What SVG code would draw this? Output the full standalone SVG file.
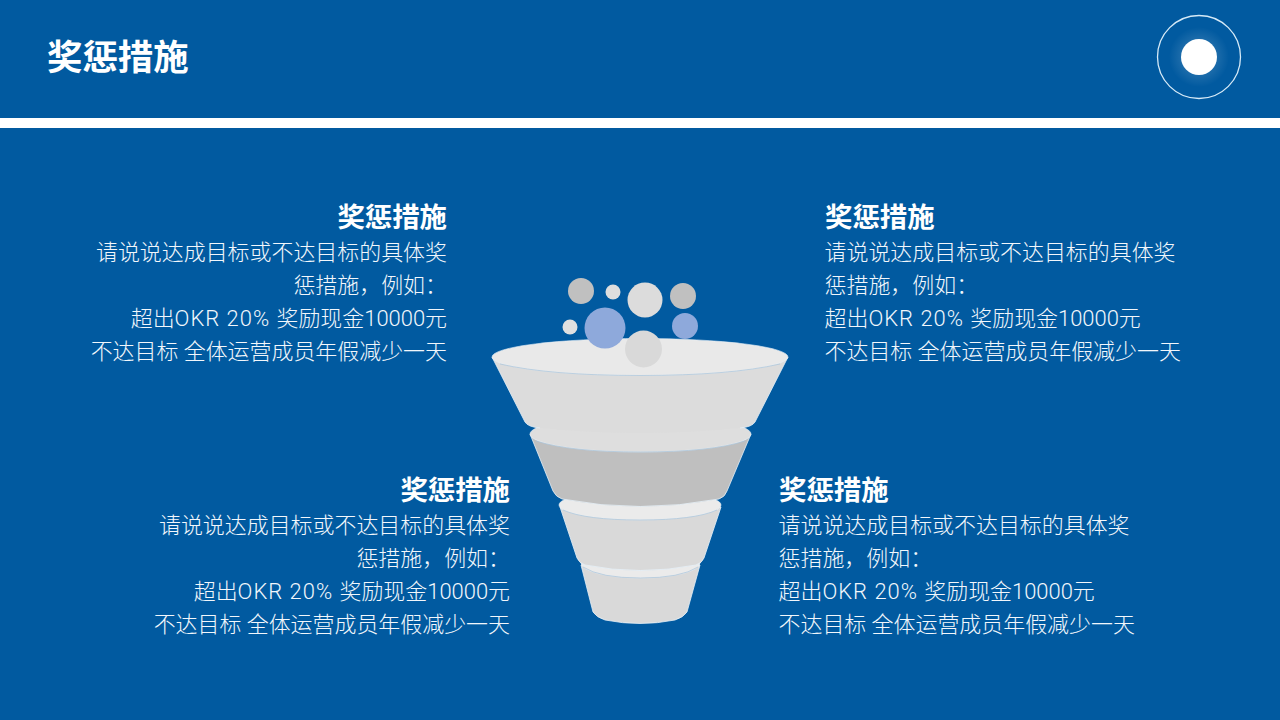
<svg xmlns="http://www.w3.org/2000/svg" width="1280" height="720" viewBox="0 0 1280 720">
<style>
text{font-family:"Liberation Sans","Noto Sans CJK SC",sans-serif;fill:#fff}
.h{font-size:27.4px;font-weight:700}
.b{font-family:Roboto,"Noto Sans CJK SC",sans-serif;font-size:21.95px;font-weight:300;fill:#f2f7fc}
.l{letter-spacing:1px}
.e{text-anchor:end}
.body{stroke:#e6f0f8;stroke-width:.8}
.top{stroke:none}
.side{fill:none;stroke:#e6f0f8;stroke-width:.8}
.rim{stroke:#e6f0f8;stroke-width:.6}
.lip{fill:none;stroke:#a9c3d9;stroke-width:.7}
</style>
<defs>
<radialGradient id="glow"><stop offset=".55" stop-color="#fff" stop-opacity=".12"/><stop offset="1" stop-color="#fff" stop-opacity="0"/></radialGradient>
</defs>
<rect width="1280" height="720" fill="#015aa0"/>
<rect y="118" width="1280" height="10" fill="#fff"/>
<text x="47" y="70" style="font-size:35.4px;font-weight:700">奖惩措施</text>
<g id="badge">
<circle cx="1199" cy="57" r="41.500" fill="none" stroke="#d6eaf7" stroke-width="1.300"/>
<circle cx="1199" cy="57" r="30" fill="url(#glow)"/>
<circle cx="1199" cy="57" r="18" fill="#fff"/>
</g>
<g id="funnel">
<g id="tier-4">
<path class="body" d="M581 565L593 612Q596 617 605 620Q640 627 675 620Q684 617 687 612L700 565Z" fill="#d9d9d9"/>
<ellipse class="rim" cx="640.500" cy="563" rx="59.500" ry="15" fill="#ebebeb"/>
<path class="lip" d="M583 567Q600 578 640.500 578Q681 578 698 567"/>
</g>
<g id="tier-3">
<path class="body" d="M560 507L577 558Q579 563 585 565Q640 576 696 565Q702 563 704 558L721 507Z" fill="#d9d9d9"/>
<ellipse class="rim" cx="640" cy="505" rx="81" ry="15" fill="#ebebeb"/>
<path class="lip" d="M563 510Q585 520 640 520Q695 520 717 510"/>
</g>
<g id="tier-2">
<path class="body" d="M530 434L553 491Q556 497 562 499Q640 514 719 499Q725 497 727 491L751 434Z" fill="#bfbfbf"/>
<ellipse class="rim" cx="640.500" cy="434" rx="110.500" ry="18" fill="#dedede"/>
<path class="lip" d="M536 441Q570 452 640.500 452Q711 452 745 441"/>
</g>
<g id="tier-1">
<path class="top" d="M492 357L525 422Q528 427 540 428Q640 438 740 428Q752 427 755 422L788 357Z" fill="#dcdcdc"/>
<path class="side" d="M492 357L525 422Q528 427 540 428M740 428Q752 427 755 422L788 357"/>
<ellipse class="rim" cx="640" cy="357" rx="148" ry="18.500" fill="#e9e9e9"/>
<path class="lip" d="M500 364Q550 375.500 640 375.500Q730 375.500 780 364"/>
</g>
</g>
<g id="bubbles">
<circle cx="581" cy="291" r="13" fill="#c0c0c0"/>
<circle cx="613" cy="292" r="7.500" fill="#dedede"/>
<circle cx="645" cy="300" r="17.500" fill="#dcdcdc"/>
<circle cx="683" cy="296" r="13" fill="#c0c0c0"/>
<circle cx="570" cy="327" r="7.500" fill="#e0e0e0"/>
<circle cx="605" cy="328" r="20.500" fill="#8ea9db"/>
<circle cx="685" cy="326" r="13" fill="#8ea9db"/>
<circle cx="643.500" cy="349" r="18.500" fill="#d9d9d9"/>
</g>
<g id="block-top-left">
<text class="h e" x="447" y="227">奖惩措施</text>
<text class="b e" x="447" y="260">请说说达成目标或不达目标的具体奖</text>
<text class="b e" x="447" y="293">惩措施，例如：</text>
<text class="b e" x="447" y="326">超出<tspan class="l">OKR 20% </tspan>奖励现金10000元</text>
<text class="b e" x="447" y="359">不达目标 全体运营成员年假减少一天</text>
</g>
<g id="block-top-right">
<text class="h" x="825" y="227">奖惩措施</text>
<text class="b" x="824.500" y="260">请说说达成目标或不达目标的具体奖</text>
<text class="b" x="824.500" y="293">惩措施，例如：</text>
<text class="b" x="824.500" y="326">超出<tspan class="l">OKR 20% </tspan>奖励现金10000元</text>
<text class="b" x="824.500" y="359">不达目标 全体运营成员年假减少一天</text>
</g>
<g id="block-bottom-left">
<text class="h e" x="510" y="500">奖惩措施</text>
<text class="b e" x="510" y="533">请说说达成目标或不达目标的具体奖</text>
<text class="b e" x="510" y="566">惩措施，例如：</text>
<text class="b e" x="510" y="599">超出<tspan class="l">OKR 20% </tspan>奖励现金10000元</text>
<text class="b e" x="510" y="632">不达目标 全体运营成员年假减少一天</text>
</g>
<g id="block-bottom-right">
<text class="h" x="779" y="500">奖惩措施</text>
<text class="b" x="778.500" y="533">请说说达成目标或不达目标的具体奖</text>
<text class="b" x="778.500" y="566">惩措施，例如：</text>
<text class="b" x="778.500" y="599">超出<tspan class="l">OKR 20% </tspan>奖励现金10000元</text>
<text class="b" x="778.500" y="632">不达目标 全体运营成员年假减少一天</text>
</g>
</svg>
